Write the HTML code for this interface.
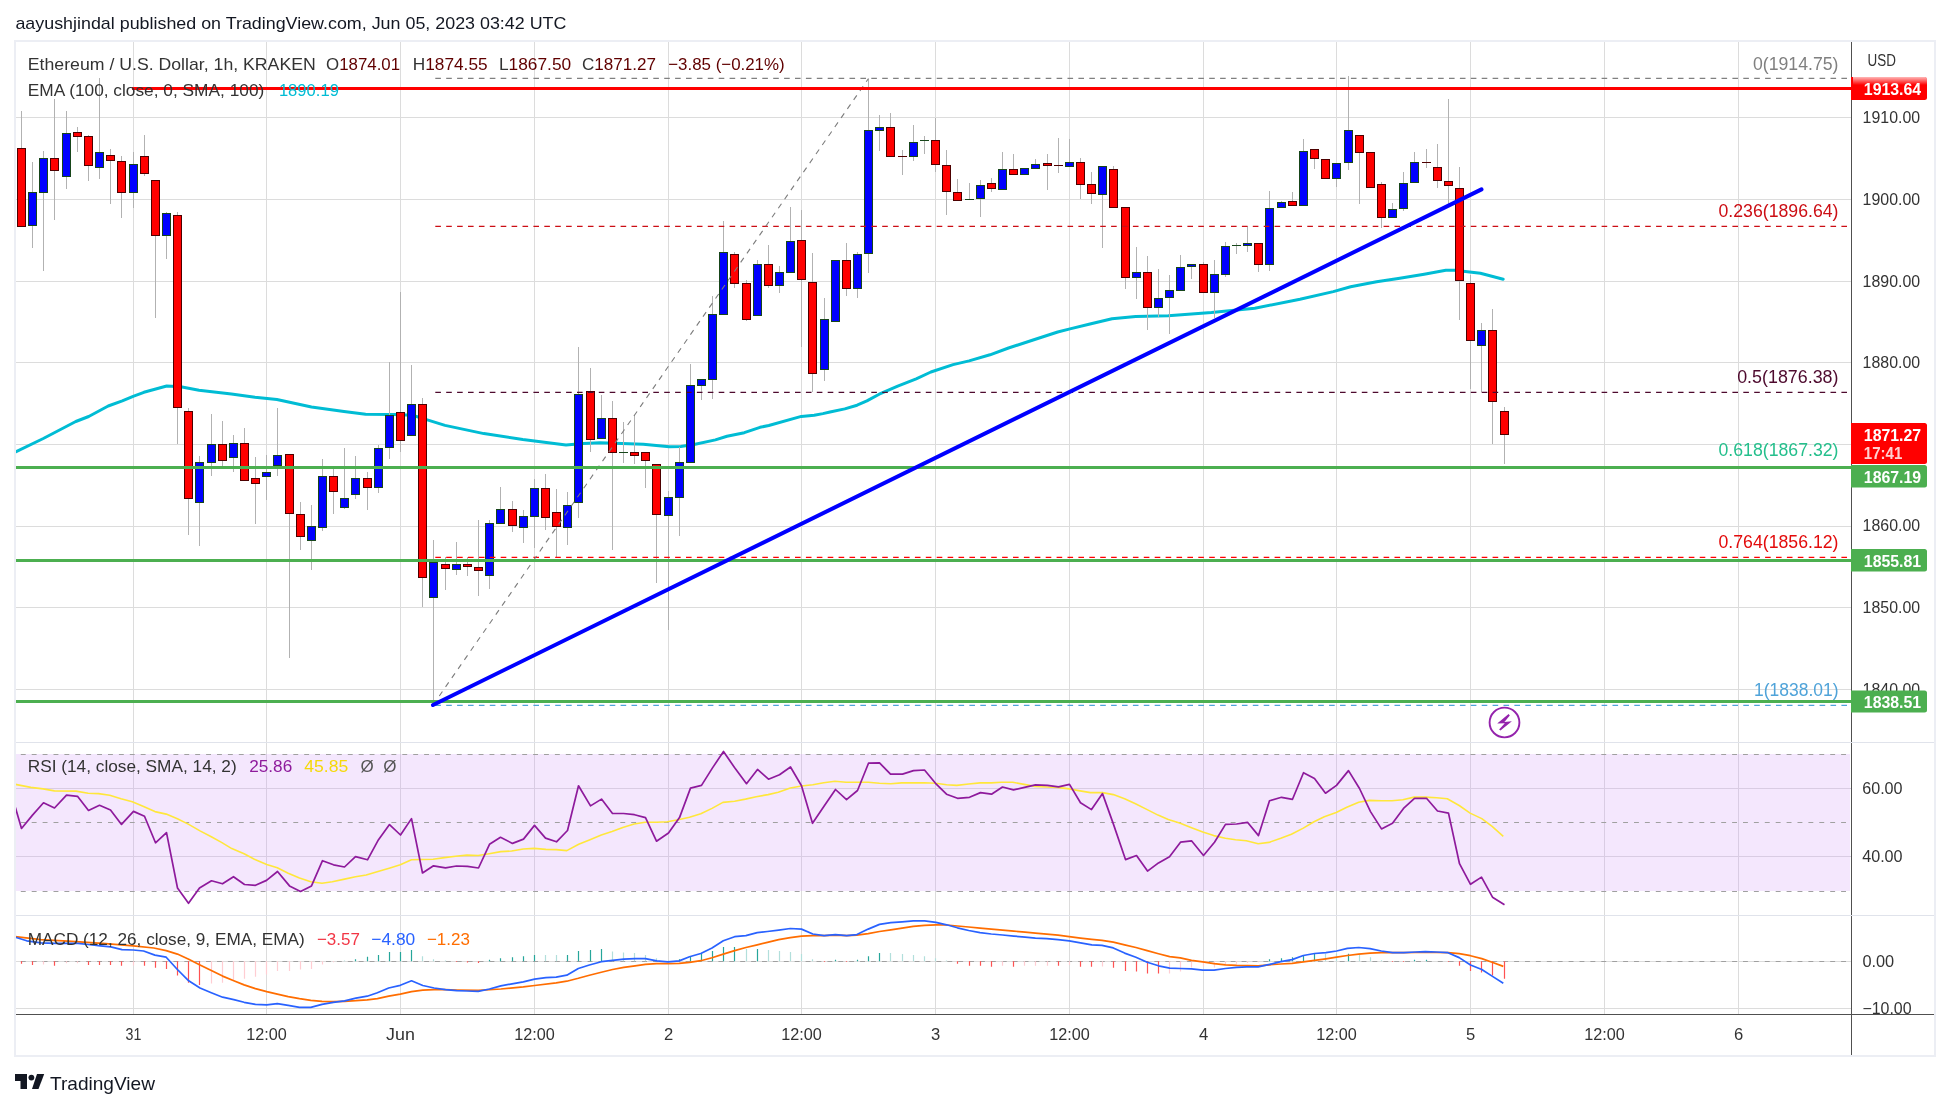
<!DOCTYPE html>
<html><head><meta charset="utf-8"><title>ETHUSD chart</title>
<style>
html,body{margin:0;padding:0;background:#fff;width:1950px;height:1109px;overflow:hidden}
svg{display:block;will-change:transform}
text{font-family:"Liberation Sans", sans-serif}
</style></head><body>
<svg width="1950" height="1109" viewBox="0 0 1950 1109">
<rect x="0" y="0" width="1950" height="1109" fill="#ffffff"/>
<rect x="15" y="754" width="1835" height="137" fill="#f4e7fd"/>
<path d="M133.5 42V1014 M266.5 42V1014 M400.5 42V1014 M534.5 42V1014 M668.5 42V1014 M801.5 42V1014 M935.5 42V1014 M1069.5 42V1014 M1203.5 42V1014 M1336.5 42V1014 M1470.5 42V1014 M1604.5 42V1014 M1738.5 42V1014 M15 117.5H1851 M15 199.5H1851 M15 281.5H1851 M15 362.5H1851 M15 444.5H1851 M15 526.5H1851 M15 607.5H1851 M15 689.5H1851 M15 788.5H1851 M15 856.5H1851 M15 961.5H1851 M15 1008.5H1851" stroke="#dcdcdc" stroke-width="1" fill="none" shape-rendering="crispEdges"/>
<path d="M15 788.5H1851M15 856.5H1851" stroke="#d9cce3" stroke-width="1" shape-rendering="crispEdges"/>
<path d="M133.5 754V891 M266.5 754V891 M400.5 754V891 M534.5 754V891 M668.5 754V891 M801.5 754V891 M935.5 754V891 M1069.5 754V891 M1203.5 754V891 M1336.5 754V891 M1470.5 754V891 M1604.5 754V891 M1738.5 754V891" stroke="#d9cce3" stroke-width="1" shape-rendering="crispEdges"/>
<path d="M1846 754.5H15M1846 822.5H15M1846 891.5H15" stroke="#a0a0a0" stroke-width="1.1" stroke-dasharray="4.9 6"/>
<path d="M1846 961.5H15" stroke="#a0a0a0" stroke-width="1.1" stroke-dasharray="4.9 6"/>
<polyline points="15.7,451.8 43.3,438.5 75.8,421.5 88.7,416.5 108.2,406 122.3,400.9 133.1,396.3 143.9,392.3 166.7,386 180.7,386.8 199,390.2 231.4,394 255,397.3 276.9,399.5 311.5,407 344,411.4 365.6,414.2 393.7,414.6 412.5,415.3 426.5,419.6 445,425.4 483.9,433.6 522.8,439.5 566,444.9 583.4,443.4 600,442.8 643.3,444.2 669.3,446.7 680.8,446.4 695.2,444.2 715.4,439.9 727,436.3 744.3,432.7 760,427.3 768.8,425.5 801.3,416.4 814.2,415.3 822.9,413.6 830,412 844.8,408.9 857.1,405.2 866.9,400.9 879.2,394.2 897.7,386.2 916.2,378.8 930.9,372 953.1,364.6 969.1,360.9 990,354.8 1008.5,348 1033.1,340 1057.7,332 1070,328.9 1090,324 1112,318.7 1135.7,316.5 1168.2,315.8 1211.5,312.6 1254.8,308.3 1300,299.2 1333.3,291.6 1350.6,286.8 1376.6,281.8 1398.2,278.6 1424.2,274.2 1445.8,270.3 1454.5,270.3 1480.4,273.2 1503.2,279.2" fill="none" stroke="#00bcd4" stroke-width="3" stroke-linejoin="round" stroke-linecap="round"/>
<path d="M21.5 111V148 M32.5 162V192 M32.5 226V248 M43.5 151V158 M43.5 193V271 M54.5 99V158 M54.5 171V220 M66.5 111V133 M66.5 177V189 M77.5 127V132 M77.5 137V152 M88.5 135V136 M88.5 166V181 M99.5 78V152 M99.5 168V179 M110.5 149V155 M110.5 161V204 M121.5 156V161 M121.5 193V218 M133.5 152V164 M133.5 193V208 M144.5 135V156 M144.5 174V176 M155.5 236V318 M166.5 212V213 M166.5 236V259 M177.5 212V215 M177.5 408V444 M188.5 408V411 M188.5 499V535 M199.5 456V462 M199.5 503V546 M211.5 414V444 M211.5 463V476 M222.5 421V444 M222.5 461V467 M233.5 435V443 M233.5 458V472 M244.5 428V443 M255.5 457V478 M255.5 484V524 M266.5 455V472 M266.5 477V500 M277.5 408V455 M277.5 466V476 M289.5 514V658 M300.5 502V514 M300.5 537V550 M311.5 505V526 M311.5 541V570 M322.5 459V476 M322.5 528V531 M333.5 469V476 M333.5 492V514 M344.5 448V498 M344.5 508V509 M355.5 456V478 M355.5 495V499 M367.5 472V478 M367.5 488V510 M378.5 445V448 M378.5 488V493 M389.5 362V415 M389.5 448V459 M400.5 292V412 M400.5 441V452 M411.5 365V404 M422.5 398V404 M422.5 578V607 M433.5 540V562 M433.5 598V705 M445.5 557V564 M445.5 569V590 M456.5 542V564 M456.5 570V575 M467.5 557V564 M467.5 567V576 M478.5 520V567 M478.5 571V596 M489.5 520V523 M489.5 576V589 M500.5 487V509 M512.5 501V509 M512.5 526V532 M523.5 510V516 M523.5 528V543 M534.5 479V488 M534.5 517V548 M545.5 474V488 M545.5 518V530 M556.5 489V512 M556.5 527V558 M567.5 492V505 M567.5 528V545 M578.5 347V394 M578.5 503V518 M590.5 368V391 M590.5 440V452 M601.5 395V418 M612.5 401V418 M612.5 453V550 M623.5 422V452 M623.5 452V463 M634.5 415V452 M634.5 456V464 M645.5 461V488 M656.5 515V583 M668.5 491V497 M668.5 516V630 M679.5 447V462 M679.5 498V536 M690.5 364V385 M701.5 386V400 M712.5 296V314 M712.5 380V399 M723.5 221V252 M734.5 252V254 M734.5 284V288 M746.5 280V283 M746.5 320V321 M757.5 260V264 M768.5 245V264 M768.5 286V288 M779.5 266V272 M779.5 286V293 M790.5 207V241 M801.5 210V240 M801.5 280V347 M812.5 253V282 M812.5 374V392 M824.5 298V319 M824.5 370V381 M846.5 243V260 M846.5 289V296 M857.5 252V254 M857.5 289V298 M868.5 79V130 M868.5 254V273 M879.5 115V127 M879.5 131V151 M890.5 113V127 M902.5 150V156 M902.5 156V175 M913.5 125V142 M913.5 157V161 M924.5 136V140 M924.5 140V154 M935.5 118V140 M935.5 165V172 M946.5 150V165 M946.5 192V215 M957.5 179V192 M969.5 183V199 M980.5 180V185 M980.5 199V217 M991.5 178V183 M991.5 189V192 M1002.5 152V169 M1013.5 154V169 M1035.5 159V164 M1047.5 154V163 M1047.5 166V190 M1058.5 138V165 M1058.5 166V173 M1069.5 139V162 M1080.5 158V162 M1080.5 185V199 M1091.5 172V184 M1091.5 194V204 M1102.5 195V248 M1113.5 166V169 M1125.5 278V289 M1136.5 247V272 M1136.5 278V299 M1147.5 256V272 M1147.5 308V330 M1158.5 269V298 M1158.5 308V317 M1169.5 275V290 M1169.5 298V334 M1180.5 255V267 M1191.5 267V279 M1203.5 262V264 M1214.5 260V274 M1214.5 293V318 M1225.5 242V246 M1225.5 275V277 M1236.5 243V245 M1236.5 245V254 M1247.5 226V243 M1247.5 246V252 M1258.5 265V272 M1269.5 191V208 M1269.5 265V271 M1281.5 201V202 M1292.5 192V201 M1303.5 139V151 M1314.5 159V169 M1336.5 179V187 M1348.5 76V130 M1348.5 163V170 M1359.5 153V204 M1381.5 182V184 M1381.5 218V228 M1392.5 203V209 M1403.5 172V183 M1403.5 209V211 M1414.5 152V162 M1426.5 149V162 M1426.5 162V168 M1437.5 144V167 M1437.5 181V188 M1448.5 99V181 M1448.5 186V204 M1459.5 167V188 M1459.5 281V320 M1470.5 275V283 M1470.5 341V389 M1481.5 323V330 M1481.5 346V392 M1492.5 309V330 M1492.5 402V444 M1504.5 407V411 M1504.5 435V464" stroke="#b2b2b2" stroke-width="1" fill="none" shape-rendering="crispEdges"/>
<path d="M17 148h9v79h-9z M50 158h9v13h-9z M73 132h9v5h-9z M84 136h9v30h-9z M106 155h9v6h-9z M117 161h9v32h-9z M140 156h9v18h-9z M151 180h9v56h-9z M173 215h9v193h-9z M184 411h9v88h-9z M218 444h9v17h-9z M240 443h9v38h-9z M251 478h9v6h-9z M285 454h9v60h-9z M296 514h9v23h-9z M329 476h9v16h-9z M363 478h9v10h-9z M396 412h9v29h-9z M418 404h9v174h-9z M441 564h9v5h-9z M463 564h9v3h-9z M474 567h9v4h-9z M508 509h9v17h-9z M541 488h9v30h-9z M552 512h9v15h-9z M586 391h9v49h-9z M608 418h9v35h-9z M630 452h9v4h-9z M641 452h9v9h-9z M652 464h9v51h-9z M730 254h9v30h-9z M742 283h9v37h-9z M764 264h9v22h-9z M797 240h9v40h-9z M808 282h9v92h-9z M842 260h9v29h-9z M886 127h9v30h-9z M898 156h9v1h-9z M931 140h9v25h-9z M942 165h9v27h-9z M953 192h9v9h-9z M987 183h9v6h-9z M1009 169h9v6h-9z M1043 163h9v3h-9z M1054 165h9v1h-9z M1076 162h9v23h-9z M1087 184h9v10h-9z M1109 169h9v39h-9z M1121 207h9v71h-9z M1143 272h9v36h-9z M1199 264h9v29h-9z M1254 243h9v22h-9z M1288 201h9v5h-9z M1310 149h9v10h-9z M1321 159h9v20h-9z M1355 135h9v18h-9z M1366 152h9v36h-9z M1377 184h9v34h-9z M1422 162h9v1h-9z M1433 167h9v14h-9z M1444 181h9v5h-9z M1455 188h9v93h-9z M1466 283h9v58h-9z M1488 330h9v72h-9z M1500 411h9v24h-9z" fill="#4d0000" shape-rendering="crispEdges"/>
<path d="M18 149h7v77h-7z M51 159h7v11h-7z M74 133h7v3h-7z M85 137h7v28h-7z M107 156h7v4h-7z M118 162h7v30h-7z M141 157h7v16h-7z M152 181h7v54h-7z M174 216h7v191h-7z M185 412h7v86h-7z M219 445h7v15h-7z M241 444h7v36h-7z M252 479h7v4h-7z M286 455h7v58h-7z M297 515h7v21h-7z M330 477h7v14h-7z M364 479h7v8h-7z M397 413h7v27h-7z M419 405h7v172h-7z M442 565h7v3h-7z M464 565h7v1h-7z M475 568h7v2h-7z M509 510h7v15h-7z M542 489h7v28h-7z M553 513h7v13h-7z M587 392h7v47h-7z M609 419h7v33h-7z M631 453h7v2h-7z M642 453h7v7h-7z M653 465h7v49h-7z M731 255h7v28h-7z M743 284h7v35h-7z M765 265h7v20h-7z M798 241h7v38h-7z M809 283h7v90h-7z M843 261h7v27h-7z M887 128h7v28h-7z M932 141h7v23h-7z M943 166h7v25h-7z M954 193h7v7h-7z M988 184h7v4h-7z M1010 170h7v4h-7z M1044 164h7v1h-7z M1077 163h7v21h-7z M1088 185h7v8h-7z M1110 170h7v37h-7z M1122 208h7v69h-7z M1144 273h7v34h-7z M1200 265h7v27h-7z M1255 244h7v20h-7z M1289 202h7v3h-7z M1311 150h7v8h-7z M1322 160h7v18h-7z M1356 136h7v16h-7z M1367 153h7v34h-7z M1378 185h7v32h-7z M1434 168h7v12h-7z M1445 182h7v3h-7z M1456 189h7v91h-7z M1467 284h7v56h-7z M1489 331h7v70h-7z M1501 412h7v22h-7z" fill="#ff0000" shape-rendering="crispEdges"/>
<path d="M28 192h9v34h-9z M39 158h9v35h-9z M62 133h9v44h-9z M95 152h9v16h-9z M129 164h9v29h-9z M162 213h9v23h-9z M195 462h9v41h-9z M207 444h9v19h-9z M229 443h9v15h-9z M262 472h9v5h-9z M273 455h9v11h-9z M307 526h9v15h-9z M318 476h9v52h-9z M340 498h9v10h-9z M351 478h9v17h-9z M374 448h9v40h-9z M385 415h9v33h-9z M407 404h9v32h-9z M429 562h9v36h-9z M452 564h9v6h-9z M485 523h9v53h-9z M496 509h9v15h-9z M519 516h9v12h-9z M530 488h9v29h-9z M563 505h9v23h-9z M574 394h9v109h-9z M597 418h9v21h-9z M619 452h9v1h-9z M664 497h9v19h-9z M675 462h9v36h-9z M686 385h9v78h-9z M697 379h9v7h-9z M708 314h9v66h-9z M719 252h9v63h-9z M753 264h9v52h-9z M775 272h9v14h-9z M786 241h9v32h-9z M820 319h9v51h-9z M831 260h9v62h-9z M853 254h9v35h-9z M864 130h9v124h-9z M875 127h9v4h-9z M909 142h9v15h-9z M920 140h9v1h-9z M965 199h9v1h-9z M976 185h9v14h-9z M998 169h9v21h-9z M1020 168h9v7h-9z M1031 164h9v5h-9z M1065 162h9v5h-9z M1098 166h9v29h-9z M1132 272h9v6h-9z M1154 298h9v10h-9z M1165 290h9v8h-9z M1176 267h9v24h-9z M1187 264h9v3h-9z M1210 274h9v19h-9z M1221 246h9v29h-9z M1232 245h9v1h-9z M1243 243h9v3h-9z M1265 208h9v57h-9z M1277 202h9v6h-9z M1299 151h9v55h-9z M1332 163h9v16h-9z M1344 130h9v33h-9z M1388 209h9v9h-9z M1399 183h9v26h-9z M1410 162h9v21h-9z M1477 330h9v16h-9z" fill="#17461a" shape-rendering="crispEdges"/>
<path d="M29 193h7v32h-7z M40 159h7v33h-7z M63 134h7v42h-7z M96 153h7v14h-7z M130 165h7v27h-7z M163 214h7v21h-7z M196 463h7v39h-7z M208 445h7v17h-7z M230 444h7v13h-7z M263 473h7v3h-7z M274 456h7v9h-7z M308 527h7v13h-7z M319 477h7v50h-7z M341 499h7v8h-7z M352 479h7v15h-7z M375 449h7v38h-7z M386 416h7v31h-7z M408 405h7v30h-7z M430 563h7v34h-7z M453 565h7v4h-7z M486 524h7v51h-7z M497 510h7v13h-7z M520 517h7v10h-7z M531 489h7v27h-7z M564 506h7v21h-7z M575 395h7v107h-7z M598 419h7v19h-7z M665 498h7v17h-7z M676 463h7v34h-7z M687 386h7v76h-7z M698 380h7v5h-7z M709 315h7v64h-7z M720 253h7v61h-7z M754 265h7v50h-7z M776 273h7v12h-7z M787 242h7v30h-7z M821 320h7v49h-7z M832 261h7v60h-7z M854 255h7v33h-7z M865 131h7v122h-7z M876 128h7v2h-7z M910 143h7v13h-7z M977 186h7v12h-7z M999 170h7v19h-7z M1021 169h7v5h-7z M1032 165h7v3h-7z M1066 163h7v3h-7z M1099 167h7v27h-7z M1133 273h7v4h-7z M1155 299h7v8h-7z M1166 291h7v6h-7z M1177 268h7v22h-7z M1188 265h7v1h-7z M1211 275h7v17h-7z M1222 247h7v27h-7z M1244 244h7v1h-7z M1266 209h7v55h-7z M1278 203h7v4h-7z M1300 152h7v53h-7z M1333 164h7v14h-7z M1345 131h7v31h-7z M1389 210h7v7h-7z M1400 184h7v24h-7z M1411 163h7v19h-7z M1478 331h7v14h-7z" fill="#0000ff" shape-rendering="crispEdges"/>
<path d="M1847 78.4H433" stroke="#808080" stroke-width="1.2" stroke-dasharray="5.6 5.3"/>
<path d="M1847 226.4H433" stroke="#cc0e14" stroke-width="1.2" stroke-dasharray="5.6 5.3"/>
<path d="M1847 392.3H433" stroke="#4e0a2e" stroke-width="1.2" stroke-dasharray="5.6 5.3"/>
<path d="M1847 557.4H433" stroke="#ff0000" stroke-width="1.2" stroke-dasharray="5.6 5.3"/>
<path d="M1847 705.4H433" stroke="#4fa3d9" stroke-width="1.2" stroke-dasharray="5.6 5.3"/>
<path d="M433 705L868.5 78.5" stroke="#7c7c7c" stroke-width="1.1" stroke-dasharray="5.5 5.5"/>
<path d="M15 467.5H1851" stroke="#4caf50" stroke-width="3"/>
<path d="M15 560.5H1851" stroke="#4caf50" stroke-width="3"/>
<path d="M15 701.5H1851" stroke="#4caf50" stroke-width="3"/>
<path d="M132 88.5H1851" stroke="#ff0000" stroke-width="3"/>
<path d="M433 705L1481.5 189.4" stroke="#0000ff" stroke-width="4" stroke-linecap="round"/>
<polyline points="15.4,784.4 30.8,787.4 43.1,788.9 54.4,790.9 75.9,791.1 88.2,793.2 98.5,793.6 109.7,795.2 121,798.7 132.3,801.8 143.6,806.5 154.9,811.6 166.2,814.1 177.4,818.8 188.7,824.4 200,830.9 211.3,836.7 221.5,842.4 231.8,848.6 244.1,853.7 254.4,859.2 266.7,864.4 277.3,867.8 288.2,873.2 299.5,878.1 310.8,881.8 322,883.2 332.3,881.8 344.6,879.1 355.5,876.7 366.2,875 378,871.5 390,868 400.3,864.8 411.5,859.8 433.1,859.2 444.4,857.6 455.6,856.2 466.9,855.1 478.2,855.5 489.1,853.7 500.8,851.6 511.6,851 523.3,849 534,848.4 545.9,849.4 556.2,849.6 566.8,850.6 578.7,844.3 590,839.7 601.3,835 612,831.5 622.8,827.4 634.1,824 645,822.3 656.7,822.3 667.3,821.7 678.2,819.8 689.5,817.2 700.8,813.7 712,808.4 722.9,802.4 734.6,801.2 745.5,799.1 756.2,796.7 768.1,794.6 778.3,792.2 790.3,788 801.5,786 812.8,784.8 823.7,782.7 835,781.3 846,782.3 856.5,782.3 868.2,782.3 879.5,783.3 890.8,783.7 901.6,782.9 913.3,782.9 924.2,782.7 935.9,783.3 946.6,784.8 956.8,785.4 968.7,784 980,782.9 991.3,782.9 1001.5,782.3 1012.8,782.3 1024.1,784.4 1035,786.4 1046.7,787 1057.3,787.4 1069.2,788.9 1080.1,790.9 1090.4,792.6 1102.5,792.6 1113.3,794.6 1124.6,798.7 1135.5,803.8 1147.2,809.6 1158,815.1 1168.3,819.6 1180.3,823.3 1190.9,827.4 1202.8,832 1213.7,835.6 1225.4,838.3 1235.6,839.7 1246.3,840.8 1258.2,843.8 1268.9,842.4 1280.8,838.3 1291.4,834.2 1303.3,828.1 1314,821.7 1324.3,816.8 1336.2,812.5 1346.8,807.3 1358.7,802.2 1369.4,800.4 1381.3,800.8 1392,800.8 1402.8,799.7 1414.1,797.1 1425,797.1 1436.7,797.7 1447.3,798.7 1459.2,805.5 1470.1,813.1 1481.8,818.6 1492.1,826.4 1503.3,836.3" fill="none" stroke="#ffe73b" stroke-width="1.6" stroke-linejoin="round"/>
<polyline points="15.4,807.5 21.5,828.5 32.5,815.1 43.5,802.8 54.5,808.0 66.5,795.2 77.5,796.3 88.5,810.4 99.5,805.3 110.5,810.0 121.5,824.4 133.5,811.4 144.5,816.2 155.5,842.8 166.5,832.6 177.5,888.0 188.5,903.3 199.5,888.0 211.5,880.8 222.5,883.8 233.5,876.7 244.5,884.5 255.5,885.3 266.5,880.4 277.5,871.5 289.5,885.9 300.5,891.4 311.5,885.9 322.5,860.7 333.5,864.8 344.5,867.0 355.5,856.6 367.5,859.8 378.5,839.7 389.5,824.6 400.5,835.0 411.5,818.6 422.5,873.0 433.5,865.8 445.5,867.8 456.5,866.0 467.5,866.4 478.5,868.0 489.5,844.3 500.5,837.3 512.5,843.4 523.5,839.1 534.5,825.4 545.5,838.1 556.5,841.8 567.5,830.5 578.5,785.8 590.5,805.9 601.5,799.1 612.5,813.5 623.5,813.5 634.5,814.7 645.5,817.6 656.5,841.2 668.5,833.0 679.5,817.6 690.5,788.1 701.5,785.4 712.5,767.9 723.5,751.5 734.5,767.5 746.5,783.7 757.5,769.4 768.5,779.2 779.5,774.8 790.5,767.0 801.5,785.8 812.5,823.3 824.5,805.5 835.5,789.5 846.5,799.7 857.5,790.5 868.5,763.2 879.5,762.8 890.5,774.1 902.5,774.1 913.5,770.6 924.5,770.0 935.5,783.3 946.5,794.2 957.5,798.3 969.5,797.3 980.5,792.6 991.5,794.2 1002.5,787.0 1013.5,789.9 1024.5,787.4 1035.5,784.8 1047.5,785.4 1058.5,786.8 1069.5,784.4 1080.5,802.8 1091.5,809.6 1102.5,793.6 1113.5,824.4 1125.5,859.6 1136.5,855.5 1147.5,871.1 1158.5,862.9 1169.5,856.8 1180.5,842.2 1191.5,840.8 1203.5,855.5 1214.5,842.2 1225.5,824.4 1236.5,824.0 1247.5,822.3 1258.5,835.6 1269.5,800.8 1281.5,797.3 1292.5,799.3 1303.5,772.7 1314.5,778.6 1325.5,793.2 1336.5,785.4 1348.5,770.6 1359.5,788.5 1370.5,811.6 1381.5,828.9 1392.5,823.3 1403.5,808.4 1414.5,798.3 1426.5,798.3 1437.5,811.0 1448.5,813.1 1459.5,863.7 1470.5,884.3 1481.5,877.1 1492.5,897.2 1504.5,904.8" fill="none" stroke="#8e1a9c" stroke-width="1.7" stroke-linejoin="round"/>
<path d="M21.5 961.3V963.7 M32.5 961.3V965.0 M54.5 961.3V965.8 M88.5 961.3V965.0 M99.5 961.3V965.0 M110.5 961.3V965.0 M121.5 961.3V965.8 M144.5 961.3V965.8 M155.5 961.3V967.8 M166.5 961.3V968.9 M177.5 961.3V975.6 M188.5 961.3V982.8 M199.5 961.3V984.9 M456.5 961.3V962.0 M467.5 961.3V962.5 M478.5 961.3V962.9 M824.5 961.3V962.0 M846.5 961.3V962.0 M957.5 961.3V963.7 M969.5 961.3V965.8 M980.5 961.3V965.8 M991.5 961.3V966.8 M1013.5 961.3V966.8 M1058.5 961.3V965.8 M1080.5 961.3V966.8 M1091.5 961.3V966.8 M1113.5 961.3V967.8 M1125.5 961.3V970.9 M1136.5 961.3V971.5 M1147.5 961.3V973.6 M1158.5 961.3V973.6 M1392.5 961.3V962.0 M1403.5 961.3V962.0 M1448.5 961.3V962.0 M1459.5 961.3V965.8 M1470.5 961.3V970.9 M1481.5 961.3V972.6 M1492.5 961.3V975.6 M1504.5 961.3V978.7" stroke="#ff5252" stroke-width="1.2" fill="none"/>
<path d="M43.5 961.3V964.4 M66.5 961.3V963.3 M77.5 961.3V963.3 M133.5 961.3V965.4 M211.5 961.3V983.4 M222.5 961.3V982.8 M233.5 961.3V979.7 M244.5 961.3V978.7 M255.5 961.3V976.7 M266.5 961.3V974.6 M277.5 961.3V970.9 M289.5 961.3V970.9 M300.5 961.3V969.5 M311.5 961.3V968.9 M322.5 961.3V964.4 M333.5 961.3V962.3 M1002.5 961.3V965.7 M1024.5 961.3V965.8 M1035.5 961.3V965.8 M1047.5 961.3V965.8 M1069.5 961.3V965.0 M1102.5 961.3V966.4 M1169.5 961.3V973.6 M1180.5 961.3V971.5 M1191.5 961.3V967.4 M1203.5 961.3V966.4 M1214.5 961.3V967.4 M1225.5 961.3V964.4 M1236.5 961.3V963.7 M1247.5 961.3V962.9 M1258.5 961.3V962.3" stroke="#ffcdd2" stroke-width="1.2" fill="none"/>
<path d="M355.5 961.3V959.2 M367.5 961.3V956.8 M378.5 961.3V955.1 M389.5 961.3V952.0 M400.5 961.3V952.0 M411.5 961.3V950.0 M489.5 961.3V959.8 M500.5 961.3V958.2 M512.5 961.3V957.2 M523.5 961.3V956.2 M534.5 961.3V955.1 M567.5 961.3V955.1 M578.5 961.3V951.0 M590.5 961.3V950.0 M601.5 961.3V949.0 M679.5 961.3V959.2 M690.5 961.3V956.2 M701.5 961.3V953.5 M712.5 961.3V951.0 M723.5 961.3V946.9 M734.5 961.3V946.9 M757.5 961.3V949.0 M835.5 961.3V959.8 M857.5 961.3V959.8 M868.5 961.3V956.2 M879.5 961.3V953.1 M1269.5 961.3V959.2 M1281.5 961.3V958.2 M1292.5 961.3V957.2 M1303.5 961.3V955.1 M1314.5 961.3V953.7 M1348.5 961.3V953.7 M1414.5 961.3V959.8 M1426.5 961.3V959.8" stroke="#26a69a" stroke-width="1.2" fill="none"/>
<path d="M344.5 961.3V960.6 M422.5 961.3V956.2 M433.5 961.3V959.2 M445.5 961.3V960.6 M545.5 961.3V955.1 M556.5 961.3V955.1 M612.5 961.3V951.4 M623.5 961.3V952.5 M634.5 961.3V953.1 M645.5 961.3V955.1 M656.5 961.3V958.2 M668.5 961.3V960.6 M746.5 961.3V949.0 M768.5 961.3V950.0 M779.5 961.3V951.0 M790.5 961.3V952.0 M801.5 961.3V954.1 M812.5 961.3V959.2 M890.5 961.3V953.1 M902.5 961.3V954.1 M913.5 961.3V955.1 M924.5 961.3V956.2 M935.5 961.3V958.2 M946.5 961.3V960.6 M1325.5 961.3V953.7 M1336.5 961.3V953.5 M1359.5 961.3V955.1 M1370.5 961.3V957.2 M1381.5 961.3V960.2" stroke="#b2dfdb" stroke-width="1.2" fill="none"/>
<polyline points="15.4,936.7 41,939.7 71.8,941.4 102.6,943.4 133.3,945.9 153.8,948 166.2,950.6 177.4,954.1 188.7,959.2 200,965 211.3,970.5 222.6,976.1 233.8,980.8 244.1,984.9 255.4,988.6 266.7,991.6 277.3,994.1 288.2,996.6 299.5,998.6 310.8,1000.3 322,1001.3 333.3,1001.7 344.6,1001.3 355.9,1000.7 367.2,999.8 377.4,998.6 388.7,996.2 400.3,994.1 411.5,991.6 422.8,990.2 434.1,989.6 445.4,989.6 456.7,990 478.2,990.4 500.8,989 523.3,986.9 534.6,985.5 556.2,982.8 566.8,981.2 578.3,978.3 589.4,975.2 601.3,972.2 612.6,969.5 623.8,967.4 635.1,965.8 645.4,964.4 656.7,963.7 668,963.7 679.2,963.3 689.5,962.3 700.8,960.7 712,957.8 723.3,954.1 734.6,950.6 745.9,947.5 757.2,944.9 767.4,942.4 778.7,939.7 790.3,937.7 801.5,936.1 812.8,935.6 824.1,935.6 835.4,935.2 846.7,935.6 856.9,935.2 868.2,933.6 879.5,931.5 890.8,929.9 902.1,928.1 913.3,926.4 924.6,925.4 935.9,924.8 946.6,925 957.4,926 968.7,927 980,928.1 991.3,929.1 1002.6,930.1 1013.8,931.1 1025.1,932.2 1035.4,933.2 1046.7,934.2 1058,935.2 1069.2,936.7 1080.5,938.1 1091.8,939.3 1102,940.4 1113.3,942.2 1124.6,944.9 1135.9,947.5 1147.2,950.6 1158.5,953.7 1169.7,956.6 1180.3,957.8 1191.5,960.3 1202.8,961.9 1214.1,963.7 1225.4,964.8 1236.7,965.4 1258.2,965.8 1269.5,964.8 1280.8,964 1292.1,963.3 1303.3,961.9 1314.6,960.3 1325.9,958.8 1336.6,957.2 1347.4,955.5 1358.7,954.1 1370,953.1 1381.3,952.7 1392.6,952.7 1403.8,952.7 1415.1,952.5 1425.4,952.5 1436.7,952.5 1448,952.7 1459.2,953.7 1470.5,955.7 1481.8,958.6 1492.1,962.3 1503.3,966.4" fill="none" stroke="#ff6d00" stroke-width="1.7" stroke-linejoin="round"/>
<polyline points="15.4,937.3 26.7,940.8 41,942.8 55.4,943.4 78,943.4 88.2,944.5 100.5,945.9 110.8,946.9 122,949.6 133.3,950 143.6,951 154.9,955.1 166.2,957.2 177.4,969.5 188.7,980.8 200,988 211.3,992.7 222.6,997.2 233.8,999.6 244.1,1002.3 255.4,1004.4 266.7,1004.8 277.3,1003.7 288.2,1005.4 299.5,1007.4 310.8,1007.4 322,1004.4 333.3,1002.3 344.6,1000.9 355.9,998.2 367.2,996.2 377.4,992.7 388.7,988 400.3,985.3 411.5,980.8 422.8,985.5 434.1,988 445.4,989.6 456.7,990.6 466.9,991 478.2,991.4 489.5,989 500.8,985.9 512.1,983.8 523.3,981.8 534.6,979.1 545.9,977.7 556.2,977.1 566.8,975.2 578.3,968.5 589.4,965 601.3,961.7 612.6,960.3 623.8,959.2 635.1,958.6 645.4,958.6 656.7,960.9 668,961.9 679.2,960.9 689.5,956.8 700.8,953.5 712,948 723.3,940.8 734.6,936.7 745.9,935.6 757.2,932.6 767.4,931.5 778.7,930.1 790.3,928.5 801.5,929.1 812.8,934 824.1,935.6 835.4,934.6 846.7,935.6 856.9,934.6 868.2,929.1 879.5,924.4 890.8,922.7 902.1,921.9 913.3,920.9 924.6,920.9 935.9,922.3 946.6,924.8 957.4,927.8 968.7,930.5 980,932.6 991.3,934 1002.6,935 1013.8,936.1 1025.1,937.1 1035.4,938.1 1046.7,938.7 1058,939.7 1069.2,940.8 1080.5,942.8 1091.8,944.9 1102,945.3 1113.3,947.9 1124.6,953.1 1135.9,957.2 1147.2,962.3 1158.5,965.8 1169.7,968.1 1180.3,968.5 1191.5,968.9 1202.8,970.1 1214.1,970.1 1225.4,968.5 1236.7,967.4 1246.9,966.8 1258.2,966.8 1269.5,964.4 1280.8,961.7 1292.1,959.6 1303.3,955.5 1314.6,953.5 1325.9,952.7 1336.6,951 1347.4,948.4 1358.7,947.5 1370,948.6 1381.3,951 1392.6,952.7 1403.8,952.7 1415.1,952 1425.4,951.6 1436.7,952 1448,952.7 1459.2,957.6 1470.5,965 1481.8,969.5 1492.1,976.1 1503.3,983.2" fill="none" stroke="#2962ff" stroke-width="1.7" stroke-linejoin="round"/>
<path d="M1851.5 41V1056" stroke="#505050" stroke-width="1" shape-rendering="crispEdges"/>
<path d="M15 1014.5H1934" stroke="#505050" stroke-width="1" shape-rendering="crispEdges"/>
<path d="M15 742.5H1934M15 915.5H1934" stroke="#e0e3eb" stroke-width="1" shape-rendering="crispEdges"/>
<rect x="15" y="41" width="1920" height="1015" fill="none" stroke="#eceef4" stroke-width="2"/>
<text x="15.4" y="28.8" font-size="17" fill="#131722" textLength="551" lengthAdjust="spacingAndGlyphs">aayushjindal published on TradingView.com, Jun 05, 2023 03:42 UTC</text>
<text x="27.8" y="69.6" font-size="17" fill="#333333" textLength="288" lengthAdjust="spacingAndGlyphs">Ethereum / U.S. Dollar, 1h, KRAKEN</text>
<text x="326.09999999999997" y="69.6" font-size="17" fill="#333333" textLength="74.00000000000001" lengthAdjust="spacingAndGlyphs">O<tspan fill="#600000">1874.01</tspan></text>
<text x="412.79999999999995" y="69.6" font-size="17" fill="#333333" textLength="74.80000000000003" lengthAdjust="spacingAndGlyphs">H<tspan fill="#600000">1874.55</tspan></text>
<text x="498.9" y="69.6" font-size="17" fill="#333333" textLength="72.30000000000003" lengthAdjust="spacingAndGlyphs">L<tspan fill="#600000">1867.50</tspan></text>
<text x="581.9" y="69.6" font-size="17" fill="#333333" textLength="73.99999999999996" lengthAdjust="spacingAndGlyphs">C<tspan fill="#600000">1871.27</tspan></text>
<text x="668.2" y="69.6" font-size="17" fill="#600000" textLength="116.5" lengthAdjust="spacingAndGlyphs">−3.85 (−0.21%)</text>
<text x="27.8" y="95.5" font-size="17" fill="#333333" textLength="236.5" lengthAdjust="spacingAndGlyphs">EMA (100, close, 0, SMA, 100)</text>
<text x="278.9" y="95.5" font-size="17" fill="#00bcd4" textLength="60" lengthAdjust="spacingAndGlyphs">1890.19</text>
<text x="27.7" y="772" font-size="17" fill="#333333" textLength="209" lengthAdjust="spacingAndGlyphs">RSI (14, close, SMA, 14, 2)</text>
<text x="249.2" y="772" font-size="17" fill="#8e1a9c" textLength="43" lengthAdjust="spacingAndGlyphs">25.86</text>
<text x="304.2" y="772" font-size="17" fill="#f5d90a" textLength="44" lengthAdjust="spacingAndGlyphs">45.85</text>
<text x="360.4" y="772" font-size="17" fill="#555555">Ø</text>
<text x="383.2" y="772" font-size="17" fill="#555555">Ø</text>
<text x="27.7" y="944.9" font-size="17" fill="#333333" textLength="277" lengthAdjust="spacingAndGlyphs">MACD (12, 26, close, 9, EMA, EMA)</text>
<text x="316.9" y="944.9" font-size="17" fill="#f23645" textLength="43" lengthAdjust="spacingAndGlyphs">−3.57</text>
<text x="371.3" y="944.9" font-size="17" fill="#2962ff" textLength="44" lengthAdjust="spacingAndGlyphs">−4.80</text>
<text x="426.9" y="944.9" font-size="17" fill="#ff6d00" textLength="43" lengthAdjust="spacingAndGlyphs">−1.23</text>
<text x="1753.0" y="69.5" font-size="17.5" fill="#808080" textLength="85.5" lengthAdjust="spacingAndGlyphs">0(1914.75)</text>
<text x="1718.5" y="217.3" font-size="17.5" fill="#cc0e14" textLength="120" lengthAdjust="spacingAndGlyphs">0.236(1896.64)</text>
<text x="1737.2" y="383" font-size="17.5" fill="#4e0a2e" textLength="101.3" lengthAdjust="spacingAndGlyphs">0.5(1876.38)</text>
<text x="1718.5" y="455.8" font-size="17.5" fill="#24bf8c" textLength="120" lengthAdjust="spacingAndGlyphs">0.618(1867.32)</text>
<text x="1718.5" y="548.2" font-size="17.5" fill="#e30b0b" textLength="120" lengthAdjust="spacingAndGlyphs">0.764(1856.12)</text>
<text x="1754.0" y="696.1" font-size="17.5" fill="#4fa3d9" textLength="84.5" lengthAdjust="spacingAndGlyphs">1(1838.01)</text>
<text x="1867.6" y="65.7" font-size="15.6" fill="#333333" textLength="28.4" lengthAdjust="spacingAndGlyphs">USD</text>
<text x="1862.6" y="122.9" font-size="15.6" fill="#333333" textLength="57.5" lengthAdjust="spacingAndGlyphs">1910.00</text>
<text x="1862.6" y="204.8" font-size="15.6" fill="#333333" textLength="57.5" lengthAdjust="spacingAndGlyphs">1900.00</text>
<text x="1862.6" y="286.8" font-size="15.6" fill="#333333" textLength="57.5" lengthAdjust="spacingAndGlyphs">1890.00</text>
<text x="1862.6" y="367.5" font-size="15.6" fill="#333333" textLength="57.5" lengthAdjust="spacingAndGlyphs">1880.00</text>
<text x="1862.6" y="531.4" font-size="15.6" fill="#333333" textLength="57.5" lengthAdjust="spacingAndGlyphs">1860.00</text>
<text x="1862.6" y="613" font-size="15.6" fill="#333333" textLength="57.5" lengthAdjust="spacingAndGlyphs">1850.00</text>
<text x="1862.6" y="694.8" font-size="15.6" fill="#333333" textLength="57.5" lengthAdjust="spacingAndGlyphs">1840.00</text>
<text x="1862.2" y="793.6" font-size="15.6" fill="#333333" textLength="40.4" lengthAdjust="spacingAndGlyphs">60.00</text>
<text x="1862.2" y="861.6" font-size="15.6" fill="#333333" textLength="40.4" lengthAdjust="spacingAndGlyphs">40.00</text>
<text x="1862.4" y="966.9" font-size="15.6" fill="#333333" textLength="31.8" lengthAdjust="spacingAndGlyphs">0.00</text>
<text x="1862.4" y="1013.6" font-size="15.6" fill="#333333" textLength="49.2" lengthAdjust="spacingAndGlyphs">−10.00</text>
<defs><linearGradient id="tg" x1="0" y1="0" x2="0" y2="1"><stop offset="0" stop-color="#fff" stop-opacity="0.72"/><stop offset="1" stop-color="#fff" stop-opacity="0"/></linearGradient></defs>
<path d="M1851 77H1924.5a2.5 2.5 0 0 1 2.5 2.5V97.5a2.5 2.5 0 0 1 -2.5 2.5H1851z" fill="#ff0000"/>
<path d="M1853 77H1924.5a2.5 2.5 0 0 1 2.5 2.5V85H1853z" fill="url(#tg)"/>
<text x="1863.8" y="95" font-size="16.3" fill="#ffffff" font-weight="bold" textLength="57.4" lengthAdjust="spacingAndGlyphs">1913.64</text>
<path d="M1851 423H1924.5a2.5 2.5 0 0 1 2.5 2.5V461.5a2.5 2.5 0 0 1 -2.5 2.5H1851z" fill="#ff0000"/>
<text x="1863.8" y="440.6" font-size="16.3" fill="#ffffff" font-weight="bold" textLength="57.4" lengthAdjust="spacingAndGlyphs">1871.27</text>
<text x="1863.8" y="459.3" font-size="16.3" fill="#ffd0d0" font-weight="bold" textLength="38.5" lengthAdjust="spacingAndGlyphs">17:41</text>
<path d="M1851 465H1924.5a2.5 2.5 0 0 1 2.5 2.5V485.0a2.5 2.5 0 0 1 -2.5 2.5H1851z" fill="#4caf50"/>
<text x="1863.8" y="482.9" font-size="16.3" fill="#ffffff" font-weight="bold" textLength="57.4" lengthAdjust="spacingAndGlyphs">1867.19</text>
<path d="M1851 549H1924.5a2.5 2.5 0 0 1 2.5 2.5V569.0a2.5 2.5 0 0 1 -2.5 2.5H1851z" fill="#4caf50"/>
<text x="1863.8" y="566.8" font-size="16.3" fill="#ffffff" font-weight="bold" textLength="57.4" lengthAdjust="spacingAndGlyphs">1855.81</text>
<path d="M1851 690.5H1924.5a2.5 2.5 0 0 1 2.5 2.5V710.0a2.5 2.5 0 0 1 -2.5 2.5H1851z" fill="#4caf50"/>
<text x="1863.8" y="707.9" font-size="16.3" fill="#ffffff" font-weight="bold" textLength="57.4" lengthAdjust="spacingAndGlyphs">1838.51</text>
<text x="133.5" y="1039.7" font-size="16.6" fill="#333333" text-anchor="middle" textLength="15.8" lengthAdjust="spacingAndGlyphs">31</text>
<text x="266.5" y="1039.7" font-size="16.6" fill="#333333" text-anchor="middle" textLength="40.6" lengthAdjust="spacingAndGlyphs">12:00</text>
<text x="400.5" y="1039.7" font-size="16.6" fill="#333333" text-anchor="middle" textLength="28.8" lengthAdjust="spacingAndGlyphs">Jun</text>
<text x="534.5" y="1039.7" font-size="16.6" fill="#333333" text-anchor="middle" textLength="40.6" lengthAdjust="spacingAndGlyphs">12:00</text>
<text x="668.5" y="1039.7" font-size="16.6" fill="#333333" text-anchor="middle">2</text>
<text x="801.5" y="1039.7" font-size="16.6" fill="#333333" text-anchor="middle" textLength="40.6" lengthAdjust="spacingAndGlyphs">12:00</text>
<text x="935.5" y="1039.7" font-size="16.6" fill="#333333" text-anchor="middle">3</text>
<text x="1069.5" y="1039.7" font-size="16.6" fill="#333333" text-anchor="middle" textLength="40.6" lengthAdjust="spacingAndGlyphs">12:00</text>
<text x="1203.5" y="1039.7" font-size="16.6" fill="#333333" text-anchor="middle">4</text>
<text x="1336.5" y="1039.7" font-size="16.6" fill="#333333" text-anchor="middle" textLength="40.6" lengthAdjust="spacingAndGlyphs">12:00</text>
<text x="1470.5" y="1039.7" font-size="16.6" fill="#333333" text-anchor="middle">5</text>
<text x="1604.5" y="1039.7" font-size="16.6" fill="#333333" text-anchor="middle" textLength="40.6" lengthAdjust="spacingAndGlyphs">12:00</text>
<text x="1738.5" y="1039.7" font-size="16.6" fill="#333333" text-anchor="middle">6</text>
<circle cx="1504.5" cy="722.5" r="14.9" fill="none" stroke="#9423ac" stroke-width="1.9"/>
<path d="M1508.6 714L1509.8 715.4L1504.4 722.1L1511.9 721.3L1500.5 730.6L1499.1 729.6L1504.8 723.3L1497.2 723.5Z" fill="#9423ac"/>
<path d="M15 1074H27V1089H20.5V1081H15Z" fill="#131722"/>
<circle cx="31.4" cy="1077.6" r="2.9" fill="#131722"/>
<path d="M37 1074H44.2L38.5 1089H32Z" fill="#131722"/>
<text x="50" y="1089.6" font-size="18.5" fill="#131722" textLength="105" lengthAdjust="spacingAndGlyphs">TradingView</text>
</svg>
</body></html>
